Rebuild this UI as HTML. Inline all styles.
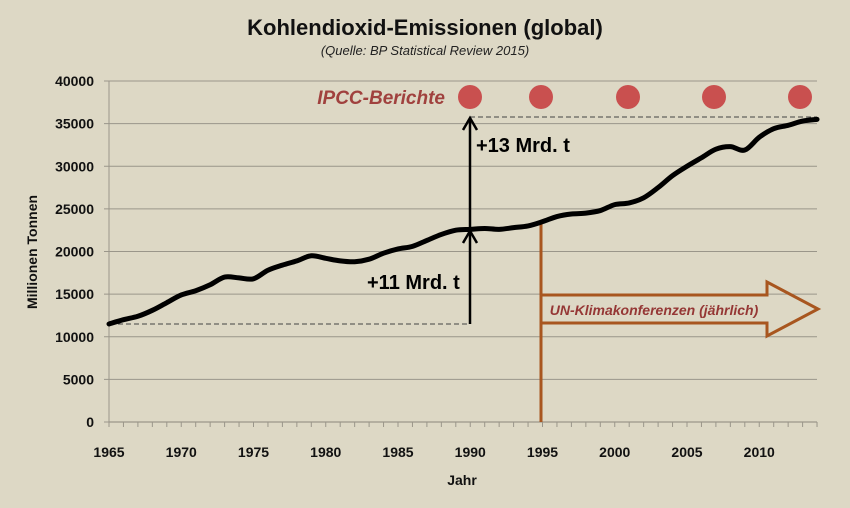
<!DOCTYPE html>
<html><head><meta charset="utf-8"><style>
html,body{margin:0;padding:0;background:#ddd8c5;}
svg{display:block;font-family:"Liberation Sans",sans-serif;}
</style></head><body>
<svg id="s" width="850" height="508" viewBox="0 0 850 508" xmlns="http://www.w3.org/2000/svg">
<rect width="850" height="508" fill="#ddd8c5"/>
<text x="425" y="35" text-anchor="middle" font-size="22" font-weight="bold" fill="#111">Kohlendioxid-Emissionen (global)</text>
<text x="425" y="55" text-anchor="middle" font-size="13" font-style="italic" fill="#222">(Quelle: BP Statistical Review 2015)</text>
<g id="grid" stroke="#9a968a" stroke-width="1"></g>
<line x1="109" y1="81" x2="109" y2="422" stroke="#9a968a"/>
<g id="ticks" stroke="#9a968a"></g>
<g id="ylab" font-size="14" font-weight="bold" fill="#111" text-anchor="end"></g>
<g id="xlab" font-size="14" font-weight="bold" fill="#111" text-anchor="middle"></g>
<text transform="translate(37,252) rotate(-90)" text-anchor="middle" font-size="14" font-weight="bold" fill="#111">Millionen Tonnen</text>
<text x="462" y="485" text-anchor="middle" font-size="14" font-weight="bold" fill="#111">Jahr</text>
<!-- dashed -->
<line x1="110" y1="324" x2="470" y2="324" stroke="#444" stroke-dasharray="5,3"/>
<line x1="470" y1="117" x2="817" y2="117" stroke="#444" stroke-dasharray="5,3"/>
<!-- UN -->
<line x1="541" y1="222" x2="541" y2="422" stroke="#a8561f" stroke-width="3"/>
<polygon points="541,295 767,295 767,282 818,309 767,336 767,323 541,323" fill="none" stroke="#a8561f" stroke-width="3"/>
<text x="654" y="315" text-anchor="middle" font-size="14" font-weight="bold" font-style="italic" fill="#953735">UN-Klimakonferenzen (jährlich)</text>
<path id="curve" fill="none" stroke="#000" stroke-width="5" stroke-linejoin="round" stroke-linecap="round"/>
<!-- arrows -->
<g stroke="#000" stroke-width="2.5" fill="none">
<line x1="470" y1="324" x2="470" y2="232"/>
<polyline points="463,243 470,231 477,243"/>
<line x1="470" y1="229" x2="470" y2="119"/>
<polyline points="463,130 470,118 477,130"/>
</g>
<text x="367" y="289" font-size="20" font-weight="bold" fill="#000">+11 Mrd. t</text>
<text x="476" y="152" font-size="20" font-weight="bold" fill="#000">+13 Mrd. t</text>
<text x="445" y="104" text-anchor="end" font-size="19" font-weight="bold" font-style="italic" fill="#a0413e">IPCC-Berichte</text>
<g fill="#c9504f"><circle cx="470" cy="97" r="12"/><circle cx="541" cy="97" r="12"/><circle cx="628" cy="97" r="12"/><circle cx="714" cy="97" r="12"/><circle cx="800" cy="97" r="12"/></g>
</svg>
<script>
var ns="http://www.w3.org/2000/svg";
function Y(v){return 422-v*341/40000;}
function X(y){return 109+(y-1965)*14.45;}
function el(p,t,a,txt){var e=document.createElementNS(ns,t);for(var k in a)e.setAttribute(k,a[k]);if(txt)e.textContent=txt;document.getElementById(p).appendChild(e);}
for(var v=0;v<=40000;v+=5000){var y=Y(v);if(v>0)el("grid","line",{x1:109,y1:y,x2:817,y2:y});else el("grid","line",{x1:109,y1:y,x2:817,y2:y,stroke:"#8a867a"});
el("ticks","line",{x1:104,y1:y,x2:109,y2:y});el("ylab","text",{x:94,y:y+5},String(v));}
for(var yr=1965;yr<=2014;yr++){el("ticks","line",{x1:X(yr),y1:422,x2:X(yr),y2:427});}
el("ticks","line",{x1:817,y1:422,x2:817,y2:427});
for(var yr=1965;yr<=2010;yr+=5)el("xlab","text",{x:X(yr),y:457},String(yr));
var d=[11.5,12.0,12.4,13.1,14.0,14.9,15.4,16.1,17.0,16.9,16.8,17.8,18.4,18.9,19.5,19.2,18.9,18.8,19.1,19.8,20.3,20.6,21.3,22.0,22.5,22.6,22.7,22.6,22.8,23.0,23.5,24.1,24.4,24.5,24.8,25.5,25.7,26.3,27.5,28.9,30.0,31.0,32.0,32.3,31.9,33.4,34.4,34.8,35.3,35.5];
var pts=d.map(function(v,i){return [X(1965+i),Y(v*1000)];});
var s="M"+pts[0][0]+","+pts[0][1];
for(var i=0;i<pts.length-1;i++){var p0=pts[i-1]||pts[i],p1=pts[i],p2=pts[i+1],p3=pts[i+2]||p2;
s+=" C"+(p1[0]+(p2[0]-p0[0])/6)+","+(p1[1]+(p2[1]-p0[1])/6)+" "+(p2[0]-(p3[0]-p1[0])/6)+","+(p2[1]-(p3[1]-p1[1])/6)+" "+p2[0]+","+p2[1];}
document.getElementById("curve").setAttribute("d",s);
</script>
</body></html>
